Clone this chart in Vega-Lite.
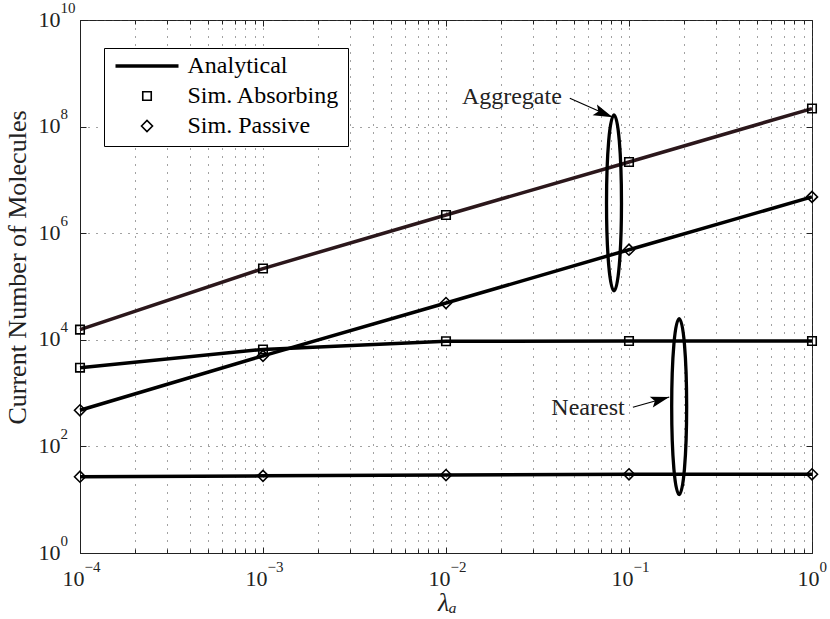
{
  "$schema": "https://vega.github.io/schema/vega-lite/v6.json",
  "width": 732,
  "height": 533,
  "autosize": {"type": "none"},
  "padding": {"left": 80, "top": 20, "right": 18, "bottom": 66},
  "background": "white",
  "config": {
    "view": {"stroke": "#222", "strokeWidth": 1},
    "font": "Liberation Serif",
    "axis": {
      "labelFont": "Liberation Serif",
      "titleFont": "Liberation Serif",
      "labelColor": "#222",
      "titleColor": "#222",
      "domainColor": "#222",
      "tickColor": "#222",
      "gridColor": "#444",
      "gridDash": [1, 7],
      "gridOpacity": 1,
      "labelFontSize": 22,
      "titleFontSize": 26,
      "titleFontWeight": "normal"
    }
  },
  "datasets": {
    "curves": [
      {"series": "AggAbs", "kind": "Analytical", "lam": 0.0001, "count": 15500},
      {"series": "AggAbs", "kind": "Analytical", "lam": 0.001, "count": 217000},
      {"series": "AggAbs", "kind": "Analytical", "lam": 0.01, "count": 2200000},
      {"series": "AggAbs", "kind": "Analytical", "lam": 0.1, "count": 21700000},
      {"series": "AggAbs", "kind": "Analytical", "lam": 1, "count": 218000000},
      {"series": "AggPas", "kind": "Analytical", "lam": 0.0001, "count": 476},
      {"series": "AggPas", "kind": "Analytical", "lam": 0.001, "count": 5000},
      {"series": "AggPas", "kind": "Analytical", "lam": 0.01, "count": 49000},
      {"series": "AggPas", "kind": "Analytical", "lam": 0.1, "count": 490000},
      {"series": "AggPas", "kind": "Analytical", "lam": 1, "count": 4800000},
      {"series": "NearAbs", "kind": "Analytical", "lam": 0.0001, "count": 3000},
      {"series": "NearAbs", "kind": "Analytical", "lam": 0.001, "count": 6600},
      {"series": "NearAbs", "kind": "Analytical", "lam": 0.01, "count": 9400},
      {"series": "NearAbs", "kind": "Analytical", "lam": 0.1, "count": 9500},
      {"series": "NearAbs", "kind": "Analytical", "lam": 1, "count": 9500},
      {"series": "NearPas", "kind": "Analytical", "lam": 0.0001, "count": 27},
      {"series": "NearPas", "kind": "Analytical", "lam": 0.001, "count": 28},
      {"series": "NearPas", "kind": "Analytical", "lam": 0.01, "count": 29},
      {"series": "NearPas", "kind": "Analytical", "lam": 0.1, "count": 30},
      {"series": "NearPas", "kind": "Analytical", "lam": 1, "count": 30},
      {"series": "AggAbs", "kind": "Sim. Absorbing", "lam": 0.0001, "count": 15500},
      {"series": "AggAbs", "kind": "Sim. Absorbing", "lam": 0.001, "count": 217000},
      {"series": "AggAbs", "kind": "Sim. Absorbing", "lam": 0.01, "count": 2200000},
      {"series": "AggAbs", "kind": "Sim. Absorbing", "lam": 0.1, "count": 21700000},
      {"series": "AggAbs", "kind": "Sim. Absorbing", "lam": 1, "count": 218000000},
      {"series": "AggPas", "kind": "Sim. Passive", "lam": 0.0001, "count": 476},
      {"series": "AggPas", "kind": "Sim. Passive", "lam": 0.001, "count": 5000},
      {"series": "AggPas", "kind": "Sim. Passive", "lam": 0.01, "count": 49000},
      {"series": "AggPas", "kind": "Sim. Passive", "lam": 0.1, "count": 490000},
      {"series": "AggPas", "kind": "Sim. Passive", "lam": 1, "count": 4800000},
      {"series": "NearAbs", "kind": "Sim. Absorbing", "lam": 0.0001, "count": 3000},
      {"series": "NearAbs", "kind": "Sim. Absorbing", "lam": 0.001, "count": 6600},
      {"series": "NearAbs", "kind": "Sim. Absorbing", "lam": 0.01, "count": 9400},
      {"series": "NearAbs", "kind": "Sim. Absorbing", "lam": 0.1, "count": 9500},
      {"series": "NearAbs", "kind": "Sim. Absorbing", "lam": 1, "count": 9500},
      {"series": "NearPas", "kind": "Sim. Passive", "lam": 0.0001, "count": 27},
      {"series": "NearPas", "kind": "Sim. Passive", "lam": 0.001, "count": 28},
      {"series": "NearPas", "kind": "Sim. Passive", "lam": 0.01, "count": 29},
      {"series": "NearPas", "kind": "Sim. Passive", "lam": 0.1, "count": 30},
      {"series": "NearPas", "kind": "Sim. Passive", "lam": 1, "count": 30}
    ],
    "ellipses": [
      {"name": "Aggregate", "lam": 0.0828, "count": 3700000},
      {"name": "Nearest", "lam": 0.188, "count": 558}
    ],
    "labels": [
      {"name": "Aggregate", "lam": 0.0229, "count": 355000000},
      {"name": "Nearest", "lam": 0.0597, "count": 519}
    ],
    "arrows": [
      {"name": "Aggregate", "lam": 0.0475, "count": 340000000, "lam2": 0.0815, "count2": 150000000},
      {"name": "Nearest", "lam": 0.105, "count": 542, "lam2": 0.166, "count2": 845}
    ]
  },
  "layer": [
    {
      "data": {"name": "curves"},
      "transform": [{"filter": "datum.kind === 'Analytical'"}],
      "mark": {"type": "line", "strokeWidth": 3.5, "strokeJoin": "round"},
      "encoding": {
        "x": {
          "field": "lam", "type": "quantitative",
          "scale": {"type": "log", "domain": [0.0001, 1], "nice": false},
          "axis": {
            "orient": "bottom",
            "values": [0.0001,0.0002,0.0003,0.0004,0.0005,0.0006,0.0007,0.0008,0.0009,0.001,0.002,0.003,0.004,0.005,0.006,0.007,0.008,0.009,0.01,0.02,0.03,0.04,0.05,0.06,0.07,0.08,0.09,0.1,0.2,0.3,0.4,0.5,0.6,0.7,0.8,0.9,1],
            "labelExpr": "indexof([0.0001,0.001,0.01,0.1,1], datum.value) >= 0 ? '10' : ''",
            "labelFont": "Liberation Serif",
            "labelFontSize": 22,
            "labelAlign": "right",
            "labelOffset": {"condition": {"test": "datum.value == 1", "value": 7}, "value": 4},
            "labelBaseline": "alphabetic",
            "labelPadding": 38,
            "labelOverlap": false,
            "labelFlush": false,
            "labelBound": false,
            "tickSize": {"condition": {"test": "indexof([0.0001,0.001,0.01,0.1,1], datum.value) >= 0", "value": -6}, "value": -4},
            "grid": true,
            "title": "λₐ",
            "titleFontStyle": "italic",
            "titleX": 367,
            "titleY": 57,
            "titleAlign": "center",
            "titleBaseline": "alphabetic"
          }
        },
        "y": {
          "field": "count", "type": "quantitative",
          "scale": {"type": "log", "domain": [1, 10000000000], "nice": false},
          "axis": {
            "orient": "left",
            "values": [1, 100, 10000, 1000000, 100000000, 10000000000],
            "labelExpr": "'10'",
            "labelFont": "Liberation Serif",
            "labelFontSize": 22,
            "labelAlign": "right",
            "labelBaseline": "middle",
            "labelOffset": -1,
            "labelPadding": 26,
            "labelOverlap": false,
            "labelFlush": false,
            "labelBound": false,
            "tickSize": -6,
            "grid": true,
            "title": "Current Number of Molecules",
            "titleFontSize": 26,
            "titleX": -55,
            "titleY": 247,
            "titleAngle": -90,
            "titleAlign": "center",
            "titleBaseline": "alphabetic"
          }
        },
        "detail": {"field": "series"},
        "color": {
          "field": "series", "type": "nominal",
          "scale": {"domain": ["AggAbs", "AggPas", "NearAbs", "NearPas"], "range": ["#2b171b", "#000000", "#000000", "#000000"]},
          "legend": null
        }
      }
    },
    {
      "data": {"name": "curves"},
      "transform": [{"filter": "datum.kind !== 'Analytical'"}],
      "mark": {"type": "point", "filled": false, "color": "#000000", "opacity": 1},
      "encoding": {
        "x": {
          "field": "lam", "type": "quantitative",
          "axis": {
            "orient": "top",
            "values": [0.0001,0.0002,0.0003,0.0004,0.0005,0.0006,0.0007,0.0008,0.0009,0.001,0.002,0.003,0.004,0.005,0.006,0.007,0.008,0.009,0.01,0.02,0.03,0.04,0.05,0.06,0.07,0.08,0.09,0.1,0.2,0.3,0.4,0.5,0.6,0.7,0.8,0.9,1],
            "labels": false, "grid": false, "domain": false, "title": null,
            "tickSize": {"condition": {"test": "indexof([0.0001,0.001,0.01,0.1,1], datum.value) >= 0", "value": -6}, "value": -4}
          }
        },
        "y": {
          "field": "count", "type": "quantitative",
          "axis": {
            "orient": "right",
            "values": [1, 100, 10000, 1000000, 100000000, 10000000000],
            "labels": false, "grid": false, "domain": false, "title": null,
            "tickSize": -6
          }
        },
        "shape": {
          "field": "kind", "type": "nominal",
          "scale": {"domain": ["Analytical", "Sim. Absorbing", "Sim. Passive"], "range": ["stroke", "square", "diamond"]},
          "legend": {
            "orient": "none", "legendX": 24, "legendY": 28, "title": null,
            "strokeColor": "#000000", "fillColor": "#ffffff", "padding": 8,
            "labelFont": "Liberation Serif", "labelFontSize": 24, "labelColor": "#000000",
            "symbolStrokeColor": "#000000", "symbolOffset": 1.5, "labelOffset": 7,
            "rowPadding": 6, "clipHeight": 20
          }
        },
        "size": {
          "field": "kind", "type": "nominal",
          "scale": {"type": "ordinal", "domain": ["Analytical", "Sim. Absorbing", "Sim. Passive"], "range": [3969, 72, 121]},
          "legend": {
            "orient": "none", "legendX": 24, "legendY": 28, "title": null,
            "strokeColor": "#000000", "fillColor": "#ffffff", "padding": 8,
            "labelFont": "Liberation Serif", "labelFontSize": 24, "labelColor": "#000000",
            "symbolStrokeColor": "#000000", "symbolOffset": 1.5, "labelOffset": 7,
            "rowPadding": 6, "clipHeight": 20
          }
        },
        "strokeWidth": {
          "field": "kind", "type": "nominal",
          "scale": {"type": "ordinal", "domain": ["Analytical", "Sim. Absorbing", "Sim. Passive"], "range": [3.5, 1.6, 1.6]},
          "legend": {
            "orient": "none", "legendX": 24, "legendY": 28, "title": null,
            "strokeColor": "#000000", "fillColor": "#ffffff", "padding": 8,
            "labelFont": "Liberation Serif", "labelFontSize": 24, "labelColor": "#000000",
            "symbolStrokeColor": "#000000", "symbolOffset": 1.5, "labelOffset": 7,
            "rowPadding": 6, "clipHeight": 20
          }
        }
      }
    },
    {
      "data": {"name": "ellipses"},
      "mark": {
        "type": "point",
        "shape": "M 0 -1 A 0.085 1 0 1 1 0 1 A 0.085 1 0 1 1 0 -1 Z",
        "filled": false,
        "size": 30976,
        "strokeWidth": 3.3,
        "color": "#000000",
        "opacity": 1
      },
      "encoding": {
        "x": {
          "field": "lam", "type": "quantitative",
          "axis": {
            "orient": "bottom",
            "values": [0.0001, 0.001, 0.01, 0.1, 1],
            "labelExpr": "datum.value == 0.0001 ? '−4' : datum.value == 0.001 ? '−3' : datum.value == 0.01 ? '−2' : datum.value == 0.1 ? '−1' : '0'",
            "labelFont": "Liberation Serif",
            "labelFontSize": 15,
            "labelAlign": "left",
            "labelOffset": {"condition": {"test": "datum.value == 1", "value": 7}, "value": 4},
            "labelBaseline": "alphabetic",
            "labelPadding": 18,
            "labelOverlap": false,
            "labelFlush": false,
            "labelBound": false,
            "ticks": false,
            "tickSize": 0,
            "domain": false,
            "grid": false,
            "title": null
          }
        },
        "y": {
          "field": "count", "type": "quantitative",
          "axis": {
            "orient": "left",
            "values": [1, 100, 10000, 1000000, 100000000, 10000000000],
            "labelExpr": "datum.value == 1 ? '0' : datum.value == 100 ? '2' : datum.value == 10000 ? '4' : datum.value == 1000000 ? '6' : datum.value == 100000000 ? '8' : '10'",
            "labelFont": "Liberation Serif",
            "labelFontSize": 15,
            "labelAlign": "left",
            "labelBaseline": "alphabetic",
            "labelOffset": -8,
            "labelPadding": 20,
            "labelOverlap": false,
            "labelFlush": false,
            "labelBound": false,
            "ticks": false,
            "tickSize": 0,
            "domain": false,
            "grid": false,
            "title": null
          }
        }
      }
    },
    {
      "data": {"name": "arrows"},
      "mark": {"type": "rule", "strokeWidth": 1.2, "color": "#000000"},
      "encoding": {
        "x": {"field": "lam", "type": "quantitative", "axis": null},
        "y": {"field": "count", "type": "quantitative", "axis": null},
        "x2": {"field": "lam2"},
        "y2": {"field": "count2"}
      }
    },
    {
      "data": {"name": "arrows"},
      "transform": [{"filter": "datum.name === 'Aggregate'"}],
      "mark": {"type": "point", "shape": "M 0 0 L -1 -0.3 L -0.8 0 L -1 0.3 Z", "filled": true, "size": 1500, "angle": 22, "color": "#000000", "opacity": 1},
      "encoding": {
        "x": {"field": "lam2", "type": "quantitative", "axis": null},
        "y": {"field": "count2", "type": "quantitative", "axis": null}
      }
    },
    {
      "data": {"name": "arrows"},
      "transform": [{"filter": "datum.name === 'Nearest'"}],
      "mark": {"type": "point", "shape": "M 0 0 L -1 -0.3 L -0.8 0 L -1 0.3 Z", "filled": true, "size": 1400, "angle": 344, "color": "#000000", "opacity": 1},
      "encoding": {
        "x": {"field": "lam2", "type": "quantitative", "axis": null},
        "y": {"field": "count2", "type": "quantitative", "axis": null}
      }
    },
    {
      "data": {"name": "labels"},
      "mark": {"type": "text", "font": "Liberation Serif", "fontSize": 24, "color": "#222222", "align": "center", "baseline": "middle"},
      "encoding": {
        "x": {"field": "lam", "type": "quantitative", "axis": null},
        "y": {"field": "count", "type": "quantitative", "axis": null},
        "text": {"field": "name"}
      }
    }
  ],
  "resolve": {"axis": {"x": "independent", "y": "independent"}}
}
